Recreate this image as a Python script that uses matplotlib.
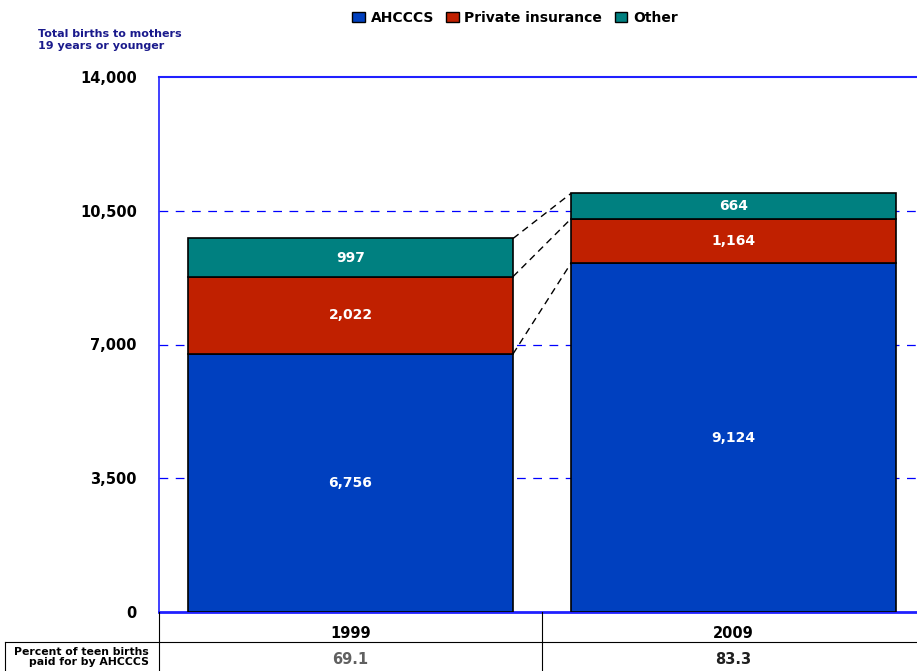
import matplotlib.pyplot as plt
from matplotlib.lines import Line2D
from matplotlib.patches import Patch

years = ['1999', '2009']
ahcccs = [6756, 9124]
private = [2022, 1164]
other = [997, 664]
pct_ahcccs = ['69.1', '83.3']
yticks = [0, 3500, 7000, 10500, 14000]

c_ahcccs = '#0040BF'
c_private = '#C02000'
c_other = '#008080'
navy = '#1A1A8C'

fig = plt.figure(figsize=(9.17, 6.71), dpi=100)
W, H = 917, 671
ax = fig.add_axes([159 / W, 1 - 612 / H, (925 - 159) / W, (612 - 77) / H])

x = [0.5, 1.5]
bw = 0.849
for i in range(2):
    b0 = 0
    for vals, col in [(ahcccs, c_ahcccs), (private, c_private), (other, c_other)]:
        ax.bar(x[i], vals[i], bottom=b0, width=bw, color=col,
               edgecolor='black', linewidth=1.2, zorder=3)
        ax.text(x[i], b0 + vals[i] / 2, f'{vals[i]:,}', ha='center', va='center',
                color='white', fontsize=10, fontweight='bold', zorder=4)
        b0 += vals[i]

# connector lines between the stacks
tops1 = [ahcccs[0], ahcccs[0] + private[0], ahcccs[0] + private[0] + other[0]]
tops2 = [ahcccs[1], ahcccs[1] + private[1], ahcccs[1] + private[1] + other[1]]
for t1, t2 in zip(tops1, tops2):
    ax.plot([x[0] + bw / 2, x[1] - bw / 2], [t1, t2], color='black',
            linestyle=(0, (5, 3.5)), linewidth=1.0, zorder=2)

ax.set_xlim(0, 2)
ax.set_ylim(0, 14000)
ax.set_yticks(yticks)
ax.set_yticklabels([f'{v:,}' for v in yticks], fontsize=10.5, fontweight='bold')
ax.tick_params(axis='y', length=0, pad=16)
ax.set_xticks([])
for v in yticks[1:-1]:
    ax.axhline(v, color='#0000FF', linestyle=(0, (7, 6)), linewidth=0.9, zorder=1)
for s in ['left', 'top', 'bottom']:
    ax.spines[s].set_color('#2020FF')
ax.spines['left'].set_linewidth(1.2)
ax.spines['top'].set_linewidth(1.5)
ax.spines['bottom'].set_linewidth(2)
ax.spines['right'].set_visible(False)

fig.text(38 / W, 1 - 40 / H, 'Total births to mothers\n19 years or younger',
         color=navy, fontsize=8, fontweight='bold', va='center', ha='left',
         linespacing=1.15)

handles = [Patch(facecolor=c, edgecolor='black', linewidth=1) for c in (c_ahcccs, c_private, c_other)]
fig.legend(handles, ['AHCCCS', 'Private insurance', 'Other'], loc='center',
           bbox_to_anchor=(515 / W, 1 - 18 / H), ncol=3, frameon=False,
           prop={'weight': 'bold', 'size': 10}, handlelength=0.9, handleheight=0.8,
           handletextpad=0.4, columnspacing=0.9)

# data table below the chart
def fl(x0, y0, x1, y1, lw=0.8):
    fig.add_artist(Line2D([x0 / W, x1 / W], [1 - y0 / H, 1 - y1 / H],
                          color='black', linewidth=lw))

fl(159, 612, 159, 671)
fl(542, 612, 542, 671)
fl(5, 642, 917, 642)
fl(5, 642, 5, 671)

for i, yr in enumerate(years):
    xc = 159 + 383 * (i + 0.5)
    fig.text(xc / W, 1 - 633 / H, yr, ha='center', va='center', fontsize=10.5,
             fontweight='bold')
    fig.text(xc / W, 1 - 660 / H, pct_ahcccs[i], ha='center', va='center',
             fontsize=10.5, fontweight='bold',
             color='#606060' if i == 0 else '#202020')
fig.text(149 / W, 1 - 657 / H, 'Percent of teen births\npaid for by AHCCCS',
         ha='right', va='center', fontsize=7.8, fontweight='bold',
         linespacing=1.1)

fig.savefig('out.png', dpi=100)
